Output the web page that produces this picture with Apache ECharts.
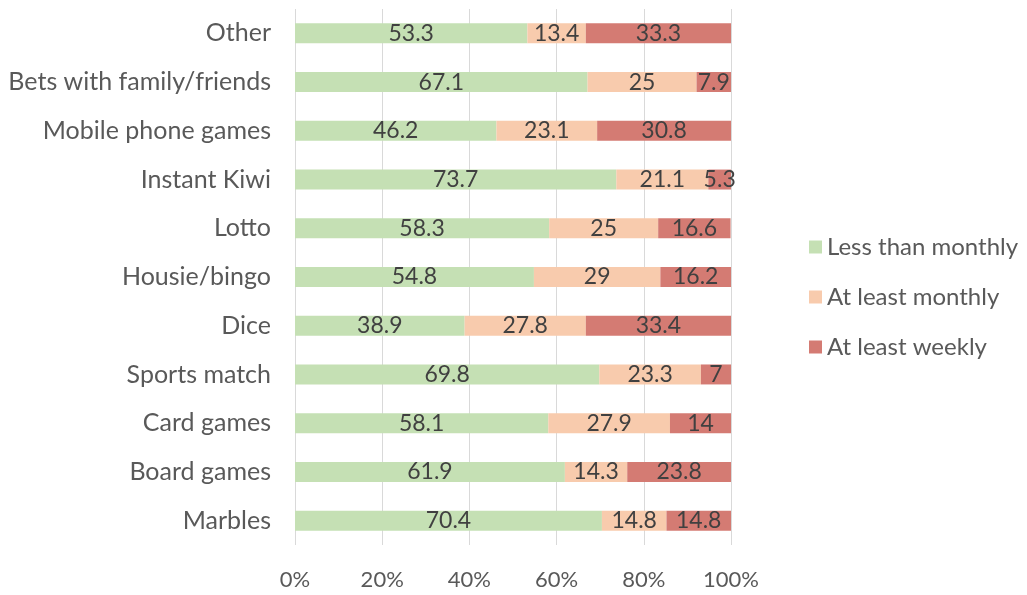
<!DOCTYPE html>
<html>
<head>
<meta charset="utf-8">
<script src="https://cdn.jsdelivr.net/npm/echarts@6/dist/echarts.min.js"></script>
<style>html,body{margin:0;padding:0;background:#fff;}#c{width:1027px;height:595px;}</style>
</head>
<body>
<div id="c"></div>
<script>
const categories = ["Marbles","Board games","Card games","Sports match","Dice","Housie/bingo","Lotto","Instant Kiwi","Mobile phone games","Bets with family/friends","Other"];
const lessThanMonthly = [70.4,61.9,58.1,69.8,38.9,54.8,58.3,73.7,46.2,67.1,53.3];
const atLeastMonthly = [14.8,14.3,27.9,23.3,27.8,29,25,21.1,23.1,25,13.4];
const atLeastWeekly = [14.8,23.8,14,7,33.4,16.2,16.6,5.3,30.8,7.9,33.3];
const seriesNames = ["Less than monthly","At least monthly","At least weekly"];
const colors = ["#c5e0b4","#f8cbad","#d47b73"];
const FONT = "Lato";

const chart = echarts.init(document.getElementById('c'));
const mk = (name, data, color) => ({
  name, type: 'bar', stack: 'all', data,
  barCategoryGap: '59%',
  itemStyle: {color},
  label: {show: true, position: 'inside', color: '#404040', fontSize: 23, fontFamily: FONT},
  emphasis: {disabled: true}
});
chart.setOption({
  animation: false,
  textStyle: {fontFamily: FONT},
  grid: {left: 295, right: 296, top: 9, bottom: 50, containLabel: false},
  legend: {
    orient: 'vertical', left: 804, top: 230, itemGap: 26,
    itemWidth: 13, itemHeight: 13, icon: 'rect',
    textStyle: {fontSize: 24, color: '#595959', fontFamily: FONT},
    data: seriesNames
  },
  xAxis: {
    type: 'value', min: 0, max: 100, interval: 20,
    axisLabel: {formatter: '{value}%', fontSize: 22, color: '#595959', margin: 24, fontFamily: FONT},
    splitLine: {lineStyle: {color: '#d9d9d9', width: 1}},
    axisLine: {show: false}, axisTick: {show: false}
  },
  yAxis: {
    type: 'category', data: categories,
    axisLabel: {fontSize: 25, color: '#595959', margin: 24, fontFamily: FONT},
    axisLine: {show: false}, axisTick: {show: false}
  },
  series: [
    mk(seriesNames[0], lessThanMonthly, colors[0]),
    mk(seriesNames[1], atLeastMonthly, colors[1]),
    mk(seriesNames[2], atLeastWeekly, colors[2])
  ]
});
</script>
</body>
</html>
